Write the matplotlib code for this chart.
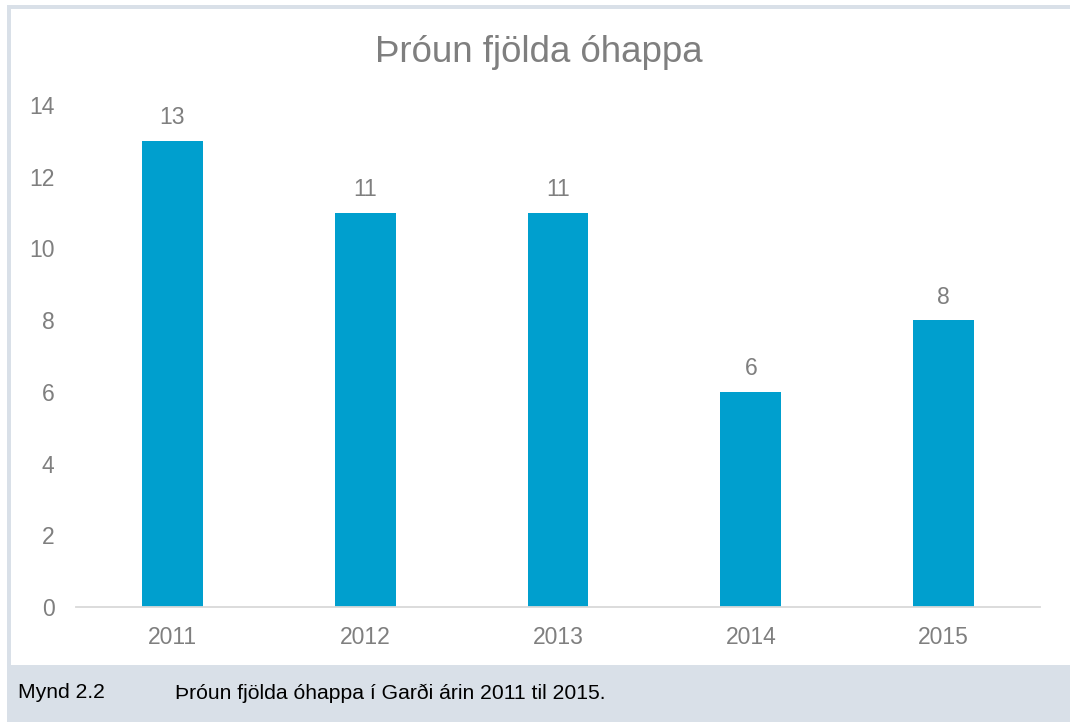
import matplotlib
matplotlib.use("Agg")
import matplotlib.pyplot as plt
from matplotlib.patches import Rectangle

years = ["2011", "2012", "2013", "2014", "2015"]
counts = [13, 11, 11, 6, 8]
yticks = [0, 2, 4, 6, 8, 10, 12, 14]
title = "Þróun fjölda óhappa"
caption_num = "Mynd 2.2"
caption_text = "Þróun fjölda óhappa í Garði árin 2011 til 2015."

plt.rcParams['font.family'] = ['Liberation Sans', 'DejaVu Sans']
W, H = 1071, 722
fig = plt.figure(figsize=(W/100, H/100), dpi=100)
fig.patch.set_facecolor('white')

frame = '#D9E0E8'
# outer gray frame
fig.patches.append(Rectangle((7/W, 0), (1070-7)/W, (722-5)/H, transform=fig.transFigure,
                             facecolor=frame, edgecolor='none', zorder=-2))
# white chart panel
fig.patches.append(Rectangle((11/W, (722-665)/H), (1071-11)/W, (665-9)/H, transform=fig.transFigure,
                             facecolor='white', edgecolor='none', zorder=-1))

ax = fig.add_axes([76/W, 1-607/H, (1040-76)/W, (607-105)/H])
ax.set_zorder(2)
ax.set_facecolor('none')
x = list(range(len(years)))
bars = ax.bar(x, counts, width=0.316, color='#009FCE', zorder=2)
ax.set_xlim(-0.5, len(years)-0.5)
ax.set_ylim(0, 14)
ax.set_yticks(yticks)
ax.set_xticks(x)
ax.set_xticklabels(years)
for s in ['top', 'right', 'left']:
    ax.spines[s].set_visible(False)
ax.spines['bottom'].set_color('#D9D9D9')
ax.spines['bottom'].set_linewidth(1.3)
ax.tick_params(axis='both', length=0, colors='#7F7F7F', labelsize=16.5)
ax.tick_params(axis='y', pad=15.5)
ax.tick_params(axis='x', pad=14)
for xi, v in zip(x, counts):
    ax.annotate(str(v), (xi, v), xytext=(0, 16.5), textcoords='offset points',
                ha='center', va='center', fontsize=16.5, color='#7F7F7F')

fig.text(539/W, 1-52/H, title, ha='center', va='center', fontsize=26.4, color='#7F7F7F')
fig.text(18/W, 1-693/H, caption_num, ha='left', va='center', fontsize=15.2, color='black')
fig.text(175/W, 1-693/H, caption_text, ha='left', va='center', fontsize=15.2, color='black')

fig.savefig('out.png', dpi=100, facecolor=fig.get_facecolor())
